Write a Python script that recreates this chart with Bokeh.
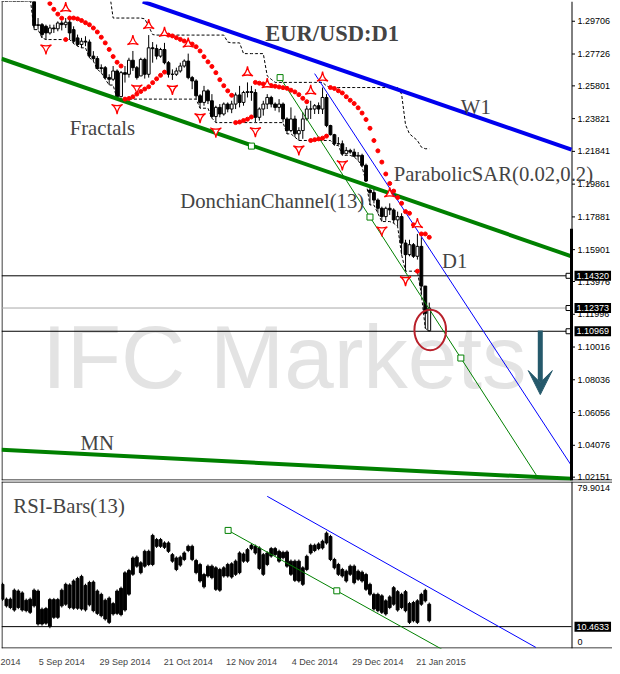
import numpy as np
from bokeh.plotting import figure
from bokeh.models import Range1d, LinearAxis, FixedTicker, Label, Arrow, VeeHead
from bokeh.layouts import column
from bokeh.embed import file_html
from bokeh.resources import INLINE
from bokeh.core.properties import value

# ---------------- data (bar index 0 = 25 Aug 2014 ... 108 = 26 Jan 2015) ----------------
opens = [1.3240, 1.3193, 1.3166, 1.3188, 1.3182, 1.3131, 1.3130, 1.3130, 1.3150, 1.2945,
         1.2950, 1.2940, 1.2900, 1.2930, 1.2925, 1.2960, 1.2950, 1.2965, 1.2920, 1.2870,
         1.2830, 1.2850, 1.2845, 1.2760, 1.2745, 1.2685, 1.2690, 1.2630, 1.2620, 1.2670,
         1.2515, 1.2660, 1.2650, 1.2735, 1.2690, 1.2640, 1.2740, 1.2650, 1.2810, 1.2805,
         1.2760, 1.2800, 1.2720, 1.2650, 1.2650, 1.2670, 1.2700, 1.2730, 1.2630, 1.2610,
         1.2520, 1.2480, 1.2550, 1.2490, 1.2395, 1.2450, 1.2410, 1.2470, 1.2440, 1.2470,
         1.2525, 1.2480, 1.2540, 1.2545, 1.2540, 1.2390, 1.2440, 1.2470, 1.2510, 1.2470,
         1.2450, 1.2470, 1.2380, 1.2310, 1.2380, 1.2290, 1.2310, 1.2380, 1.2440, 1.2440,
         1.2460, 1.2440, 1.2510, 1.2340, 1.2285, 1.2230, 1.2230, 1.2170, 1.2190, 1.2180,
         1.2155, 1.2160, 1.2100, 1.1950, 1.1935, 1.1890, 1.1840, 1.1790, 1.1840, 1.1830,
         1.1770, 1.1790, 1.1630, 1.1560, 1.1620, 1.1550, 1.1610, 1.1370, 1.1100]
highs = [1.3246, 1.3200, 1.3200, 1.3220, 1.3190, 1.3150, 1.3140, 1.3160, 1.3160, 1.2990,
         1.2960, 1.2950, 1.2950, 1.2950, 1.2970, 1.2975, 1.2990, 1.2985, 1.2940, 1.2890,
         1.2870, 1.2880, 1.2860, 1.2790, 1.2760, 1.2710, 1.2700, 1.2650, 1.2700, 1.2680,
         1.2670, 1.2700, 1.2750, 1.2791, 1.2700, 1.2750, 1.2750, 1.2887, 1.2845, 1.2830,
         1.2810, 1.2840, 1.2730, 1.2680, 1.2690, 1.2720, 1.2740, 1.2775, 1.2640, 1.2620,
         1.2530, 1.2580, 1.2560, 1.2530, 1.2460, 1.2470, 1.2480, 1.2480, 1.2490, 1.2540,
         1.2580, 1.2550, 1.2601, 1.2580, 1.2560, 1.2450, 1.2490, 1.2530, 1.2520, 1.2480,
         1.2500, 1.2480, 1.2390, 1.2450, 1.2400, 1.2330, 1.2420, 1.2460, 1.2490, 1.2470,
         1.2480, 1.2570, 1.2530, 1.2345, 1.2290, 1.2270, 1.2250, 1.2210, 1.2200, 1.2200,
         1.2180, 1.2170, 1.2110, 1.1970, 1.1960, 1.1900, 1.1850, 1.1850, 1.1870, 1.1840,
         1.1820, 1.1810, 1.1650, 1.1650, 1.1630, 1.1685, 1.1665, 1.1370, 1.1270]
lows = [1.3190, 1.3150, 1.3160, 1.3160, 1.3130, 1.3120, 1.3110, 1.3110, 1.2920, 1.2920,
        1.2870, 1.2860, 1.2890, 1.2900, 1.2910, 1.2915, 1.2930, 1.2860, 1.2835, 1.2820,
        1.2810, 1.2820, 1.2750, 1.2730, 1.2680, 1.2660, 1.2620, 1.2585, 1.2610, 1.2500,
        1.2510, 1.2600, 1.2630, 1.2670, 1.2618, 1.2640, 1.2624, 1.2630, 1.2720, 1.2740,
        1.2750, 1.2710, 1.2630, 1.2616, 1.2640, 1.2660, 1.2690, 1.2620, 1.2560, 1.2500,
        1.2445, 1.2460, 1.2470, 1.2385, 1.2358, 1.2390, 1.2400, 1.2420, 1.2415, 1.2440,
        1.2450, 1.2460, 1.2510, 1.2490, 1.2360, 1.2370, 1.2400, 1.2440, 1.2450, 1.2430,
        1.2420, 1.2360, 1.2290, 1.2300, 1.2270, 1.2250, 1.2260, 1.2370, 1.2380, 1.2410,
        1.2410, 1.2410, 1.2330, 1.2280, 1.2220, 1.2225, 1.2160, 1.2165, 1.2170, 1.2150,
        1.2130, 1.2090, 1.2000, 1.1860, 1.1870, 1.1810, 1.1760, 1.1765, 1.1800, 1.1750,
        1.1730, 1.1560, 1.1460, 1.1550, 1.1540, 1.1530, 1.1320, 1.1115, 1.1097]
closes = [1.3193, 1.3166, 1.3188, 1.3182, 1.3131, 1.3130, 1.3130, 1.3150, 1.2945, 1.2950,
          1.2890, 1.2900, 1.2930, 1.2925, 1.2960, 1.2950, 1.2965, 1.2900, 1.2850, 1.2830,
          1.2850, 1.2845, 1.2760, 1.2745, 1.2685, 1.2690, 1.2630, 1.2620, 1.2670, 1.2515,
          1.2660, 1.2650, 1.2735, 1.2690, 1.2630, 1.2740, 1.2650, 1.2810, 1.2805, 1.2760,
          1.2800, 1.2720, 1.2650, 1.2650, 1.2670, 1.2700, 1.2730, 1.2630, 1.2610, 1.2520,
          1.2480, 1.2550, 1.2490, 1.2395, 1.2450, 1.2410, 1.2470, 1.2440, 1.2470, 1.2525,
          1.2480, 1.2540, 1.2545, 1.2540, 1.2390, 1.2440, 1.2470, 1.2510, 1.2470, 1.2450,
          1.2470, 1.2380, 1.2310, 1.2380, 1.2290, 1.2310, 1.2380, 1.2440, 1.2440, 1.2460,
          1.2440, 1.2510, 1.2340, 1.2285, 1.2230, 1.2230, 1.2170, 1.2190, 1.2180, 1.2155,
          1.2160, 1.2100, 1.2005, 1.1935, 1.1890, 1.1840, 1.1790, 1.1840, 1.1830, 1.1770,
          1.1790, 1.1630, 1.1560, 1.1620, 1.1550, 1.1610, 1.1370, 1.1205, 1.1237]

rsi_hi = [31.5, 24.4, 24.4, 28.7, 28.3, 27.4, 23.9, 24.4, 28.7, 28.3, 19.6, 19.9, 24.2, 24.2, 24.2,
          28.7, 31.5, 31.2, 33.1, 34.3, 35.3, 31.0, 32.4, 32.6, 28.3, 26.7, 23.9, 24.9, 22.3, 28.3,
          29.6, 37.0, 38.1, 44.1, 44.5, 41.8, 47.3, 47.3, 54.9, 52.9, 52.9, 51.3, 51.3, 45.7, 44.1,
          44.5, 46.5, 49.7, 49.7, 42.9, 41.0, 36.2, 40.2, 40.2, 39.4, 38.6, 39.4, 41.0, 41.3, 42.6,
          46.5, 46.0, 48.1, 50.2, 49.7, 48.9, 45.7, 46.5, 48.6, 48.6, 47.3, 46.8, 47.0, 42.6, 42.6,
          42.6, 39.4, 44.9, 50.2, 50.2, 50.8, 52.1, 56.0, 54.4, 43.4, 41.0, 38.6, 37.8, 40.2, 40.2,
          37.8, 37.3, 36.2, 31.5, 26.7, 26.7, 26.0, 23.6, 25.5, 29.9, 28.0, 26.7, 28.0, 22.3, 22.8,
          23.6, 26.7, 28.6, 22.0]
rsi_lo = [22.8, 19.6, 18.8, 17.6, 18.8, 17.6, 17.3, 16.5, 19.6, 10.9, 10.9, 11.3, 9.7, 14.1, 14.1,
          19.6, 20.4, 18.8, 18.5, 18.5, 18.1, 17.7, 20.1, 17.3, 16.0, 14.9, 13.3, 11.7, 15.7, 16.0,
          15.4, 17.6, 25.2, 34.7, 38.6, 35.5, 38.6, 39.4, 39.4, 48.1, 48.1, 47.6, 45.7, 41.0, 37.0,
          39.1, 41.8, 46.1, 41.8, 35.5, 31.5, 28.7, 33.9, 33.1, 27.5, 27.1, 33.9, 33.9, 33.4, 34.7,
          35.5, 41.0, 41.0, 47.0, 44.9, 37.5, 34.7, 39.4, 43.4, 44.1, 41.0, 42.6, 38.6, 34.7, 31.8,
          31.5, 29.9, 37.0, 44.9, 46.1, 47.0, 47.3, 49.7, 41.8, 37.8, 34.7, 33.9, 31.5, 34.7, 30.7,
          32.3, 31.5, 27.5, 25.2, 18.1, 17.3, 16.5, 15.7, 18.8, 20.4, 17.6, 18.8, 17.3, 11.7, 12.5,
          11.7, 20.4, 22.0, 12.5]

price_ticks = [1.29706, 1.27726, 1.25801, 1.23821, 1.21841, 1.19861, 1.17881, 1.15901,
               1.13976, 1.11996, 1.10016, 1.08036, 1.06056, 1.04076, 1.02151]
date_bars = [2, 9, 25, 41, 57, 73, 89, 105]
date_labels = ["2014", "5 Sep 2014", "29 Sep 2014", "21 Oct 2014", "12 Nov 2014",
               "4 Dec 2014", "29 Dec 2014", "21 Jan 2015"]
level_prices = [1.14320, 1.12373, 1.10969]
level_colors = ["black", "#a8a8a8", "black"]
rsi_level = 10.4633
rsi_top = 79.9014
rsi_scale_labels = ["79.9014", "0"]
rsi_scale_pos = [76.6, 3.0]

# hand-drawn objects (bar index, price)
w1_x, w1_y = [35.5, 144.0], [1.3090, 1.2195]
d1_x, d1_y = [-0.25, 144.0], [1.2744, 1.1550]
d1_anchor_x, d1_anchor_y = [63.0], [1.2216]
mn_x, mn_y = [-0.25, 144.0], [1.0380, 1.0205]
tg_x, tg_y = [70.25, 135.5], [1.2630, 1.0212]
tg_anchor_x, tg_anchor_y = [70.25, 93.0, 116.0], [1.2630, 1.1787, 1.0935]
tb_x, tb_y = [79.0, 144.0], [1.2654, 1.0284]
ell_x, ell_y, ell_w, ell_h = 108.25, 1.1105, 8.0, 0.0245
arrow_x, arrow_y0, arrow_y1 = 136.1, 1.1102, 1.0714
rsi_b_x, rsi_b_y = [67.0, 135.0], [72.8, 0.5]
rsi_g_x, rsi_g_y = [57.1, 112.0], [56.5, -1.2]
rsi_g_anchor_x, rsi_g_anchor_y = [57.1, 84.6], [56.5, 27.6]

# ---------------- indicators from the price data ----------------
n = len(closes)
idx = list(range(n))


def parabolic_sar(h, l, step=0.02, amax=0.2):
    out = [0.0] * len(h)
    bull, af, ep, sar = False, step, l[0], h[0]
    out[0] = sar
    for i in range(1, len(h)):
        sar = sar + af * (ep - sar)
        if bull:
            sar = min(sar, l[i - 1], l[max(i - 2, 0)])
            if l[i] < sar:
                bull, sar, ep, af = False, ep, l[i], step
            elif h[i] > ep:
                ep, af = h[i], min(af + step, amax)
        else:
            sar = max(sar, h[i - 1], h[max(i - 2, 0)])
            if h[i] > sar:
                bull, sar, ep, af = True, ep, h[i], step
            elif l[i] < ep:
                ep, af = l[i], min(af + step, amax)
        out[i] = sar
    return out


sar = parabolic_sar(highs, lows)
dc_period = 20
dc_up = [max(highs[max(0, i - dc_period + 1):i + 1]) for i in idx]
dc_dn = [min(lows[max(0, i - dc_period + 1):i + 1]) for i in idx]
fu_x, fu_y, fd_x, fd_y = [], [], [], []
for i in range(2, n - 2):
    if highs[i] > max(highs[i - 2], highs[i - 1], highs[i + 1], highs[i + 2]):
        fu_x.append(i); fu_y.append(highs[i] + 0.0058)
    if lows[i] < min(lows[i - 2], lows[i - 1], lows[i + 1], lows[i + 2]):
        fd_x.append(i); fd_y.append(lows[i] - 0.0052)

# ---------------- geometry ----------------
CHART_W = 570                 # px of the candle area
FW = 611                      # frame incl. the price-scale strip
K = CHART_W / 144.25          # px per bar
X0 = -0.25
X1 = X0 + FW / K
AX = 144.0 + 0.5 / K          # price-scale line
FH1, FH2 = 479, 167
PY0, PY1 = 1.01948, 1.30900
PPX = (PY1 - PY0) / FH1
RPX = rsi_top / FH2
SERIF = "Liberation Serif"
SANS = "Liberation Sans"

# ---------------- price panel ----------------
p = figure(frame_width=FW, frame_height=FH1, x_range=Range1d(X0, X1),
           y_range=Range1d(PY0, PY1), output_backend="svg", toolbar_location=None,
           x_axis_location=None, y_axis_location=None,
           min_border_left=1, min_border_top=1, min_border_bottom=1, min_border_right=0)
p.grid.visible = False
p.outline_line_color = None

p.text(x=[10], y=[1.0941], text=["IFC Markets"], text_font=value(SANS),
       text_font_size=value("89px"), text_color="#e3e3e3", text_baseline="alphabetic",
       level="underlay")

# borders and price scale
p.segment(x0=[X0 + 0.5 / K], y0=[PY0], x1=[X0 + 0.5 / K], y1=[PY1], line_color="black")
p.segment(x0=[X0], y0=[PY0 + 0.5 * PPX], x1=[X1], y1=[PY0 + 0.5 * PPX], line_color="black")
p.segment(x0=[AX], y0=[PY0], x1=[AX], y1=[PY1], line_color="black")
p.segment(x0=[AX] * len(price_ticks), y0=price_ticks, x1=[AX + 3 / K] * len(price_ticks),
          y1=price_ticks, line_color="black")
p.text(x=[144.0 + 6 / K] * len(price_ticks), y=price_ticks,
       text=["%.5f" % t for t in price_ticks], text_font=value(SANS),
       text_font_size=value("9px"), text_baseline="middle", text_align="left",
       text_color="black")

for lv, lc in zip(level_prices, level_colors):
    p.segment(x0=[X0], y0=[lv], x1=[144.0], y1=[lv], line_color=lc, line_width=1)

p.line(idx, dc_up, line_color="black", line_dash="3 2", line_width=1)
p.line(idx, dc_dn, line_color="black", line_dash="3 2", line_width=1)

body_top = [max(o, c) for o, c in zip(opens, closes)]
body_bot = [min(o, c) for o, c in zip(opens, closes)]
body_col = ["white" if c >= o else "black" for o, c in zip(opens, closes)]
p.segment(x0=idx, y0=highs, x1=idx, y1=lows, line_color="black", line_width=1)
p.vbar(x=idx, top=body_top, bottom=body_bot, width=0.72, fill_color=body_col,
       line_color="black", line_width=1)

p.line(w1_x, w1_y, line_color="#0000ee", line_width=4)
p.line(d1_x, d1_y, line_color="#008000", line_width=4)
p.scatter(d1_anchor_x, d1_anchor_y, marker="square", size=6, fill_color="white",
          line_color="#008000", line_width=1)
p.line(mn_x, mn_y, line_color="#008000", line_width=4)
p.line(tg_x, tg_y, line_color="#008000", line_width=1)
p.scatter(tg_anchor_x, tg_anchor_y, marker="square", size=6, fill_color="white",
          line_color="#008000", line_width=1)
p.line(tb_x, tb_y, line_color="#0000ff", line_width=1)

p.scatter(idx, sar, marker="circle", size=4, fill_color="red", line_color="red")
p.scatter(fu_x, fu_y, marker="triangle_pin", size=11, fill_color="white",
          line_color="red", line_width=1.3)
p.scatter(fd_x, fd_y, marker="triangle_pin", size=11, angle=np.pi, fill_color="white",
          line_color="red", line_width=1.3)

p.scatter([143.25] * 3, level_prices, marker="square", size=5, fill_color="white",
          line_color="black", line_width=1)
p.segment(x0=[144.0], y0=[1.1717], x1=[144.0], y1=[PY0], line_color="black", line_width=3)

p.ellipse(x=[ell_x], y=[ell_y], width=[ell_w], height=[ell_h], fill_color=None,
          line_color="#b8202a", line_width=2)
ac = "#25596b"
p.add_layout(Arrow(end=VeeHead(size=24, fill_color=ac, line_color=ac),
                   x_start=arrow_x, y_start=arrow_y0, x_end=arrow_x, y_end=arrow_y1,
                   line_color=ac, line_width=5))

p.add_layout(Label(x=66.5, y=1.2899, text="EUR/USD:D1", text_font=SERIF,
                   text_font_size="22.5px", text_font_style="bold", text_baseline="alphabetic"))
for tx, ty, tt in [(17.0, 1.2326, "Fractals"), (116.0, 1.2451, "W1"),
                   (99.0, 1.2045, "ParabolicSAR(0.02,0.2)"),
                   (45.0, 1.1884, "DonchianChannel(13)"), (111.25, 1.1520, "D1"),
                   (19.75, 1.0421, "MN")]:
    p.add_layout(Label(x=tx, y=ty, text=tt, text_font=SERIF, text_font_size="20.7px",
                       text_baseline="alphabetic"))

for lv in level_prices:
    p.add_layout(Label(x=144.0 + 3 / K, y=lv, text="%.5f" % lv, text_font=SANS,
                       text_font_size="9px", text_color="white", background_fill_color="black",
                       text_baseline="middle", padding=2))

# ---------------- RSI panel ----------------
r = figure(frame_width=FW, frame_height=FH2, x_range=p.x_range, y_range=Range1d(0, rsi_top),
           output_backend="svg", toolbar_location=None, x_axis_location=None,
           y_axis_location=None, min_border_left=1, min_border_top=0, min_border_bottom=0,
           min_border_right=0)
r.grid.visible = False
r.outline_line_color = None

date_ticks = [date_bars[0]] + [b + 6 for b in date_bars[1:]]
rx = LinearAxis(ticker=FixedTicker(ticks=date_ticks),
                major_label_overrides={t: s for t, s in zip(date_ticks, date_labels)})
rx.axis_line_color = None
rx.major_tick_line_color = None
rx.minor_tick_line_color = None
rx.major_label_text_font = SANS
rx.major_label_text_font_size = "9px"
rx.major_label_standoff = 2
r.add_layout(rx, "below")

r.segment(x0=[X0 + 0.5 / K], y0=[0], x1=[X0 + 0.5 / K], y1=[rsi_top], line_color="black")
r.segment(x0=[X0], y0=[rsi_top - 0.5 * RPX], x1=[X1], y1=[rsi_top - 0.5 * RPX], line_color="black")
r.segment(x0=[X0], y0=[0.5 * RPX], x1=[X1], y1=[0.5 * RPX], line_color="black")
r.segment(x0=[AX], y0=[0], x1=[AX], y1=[rsi_top], line_color="black")
r.text(x=[144.0 + 6 / K] * 2, y=rsi_scale_pos, text=rsi_scale_labels, text_font=value(SANS),
       text_font_size=value("9px"), text_baseline="middle", text_align="left")

r.segment(x0=[X0], y0=[rsi_level], x1=[144.0], y1=[rsi_level], line_color="black")
r.segment(x0=idx, y0=rsi_hi, x1=idx, y1=rsi_lo, line_color="black", line_width=1)
r.vbar(x=idx, top=[h - 0.8 for h in rsi_hi], bottom=[l + 0.8 for l in rsi_lo], width=0.72,
       fill_color="black", line_color="black")
r.line(rsi_b_x, rsi_b_y, line_color="#0000ff", line_width=1)
r.line(rsi_g_x, rsi_g_y, line_color="#008000", line_width=1)
r.scatter(rsi_g_anchor_x, rsi_g_anchor_y, marker="square", size=6, fill_color="white",
          line_color="#008000")
r.add_layout(Label(x=2.75, y=68.0, text="RSI-Bars(13)", text_font=SERIF,
                   text_font_size="20.7px", text_baseline="alphabetic"))
r.add_layout(Label(x=144.0 + 3 / K, y=rsi_level, text="10.4633", text_font=SANS,
                   text_font_size="9px", text_color="white", background_fill_color="black",
                   text_baseline="middle", padding=2))

layout = column(p, r, spacing=0)
open("out.html", "w").write(file_html(layout, INLINE))
